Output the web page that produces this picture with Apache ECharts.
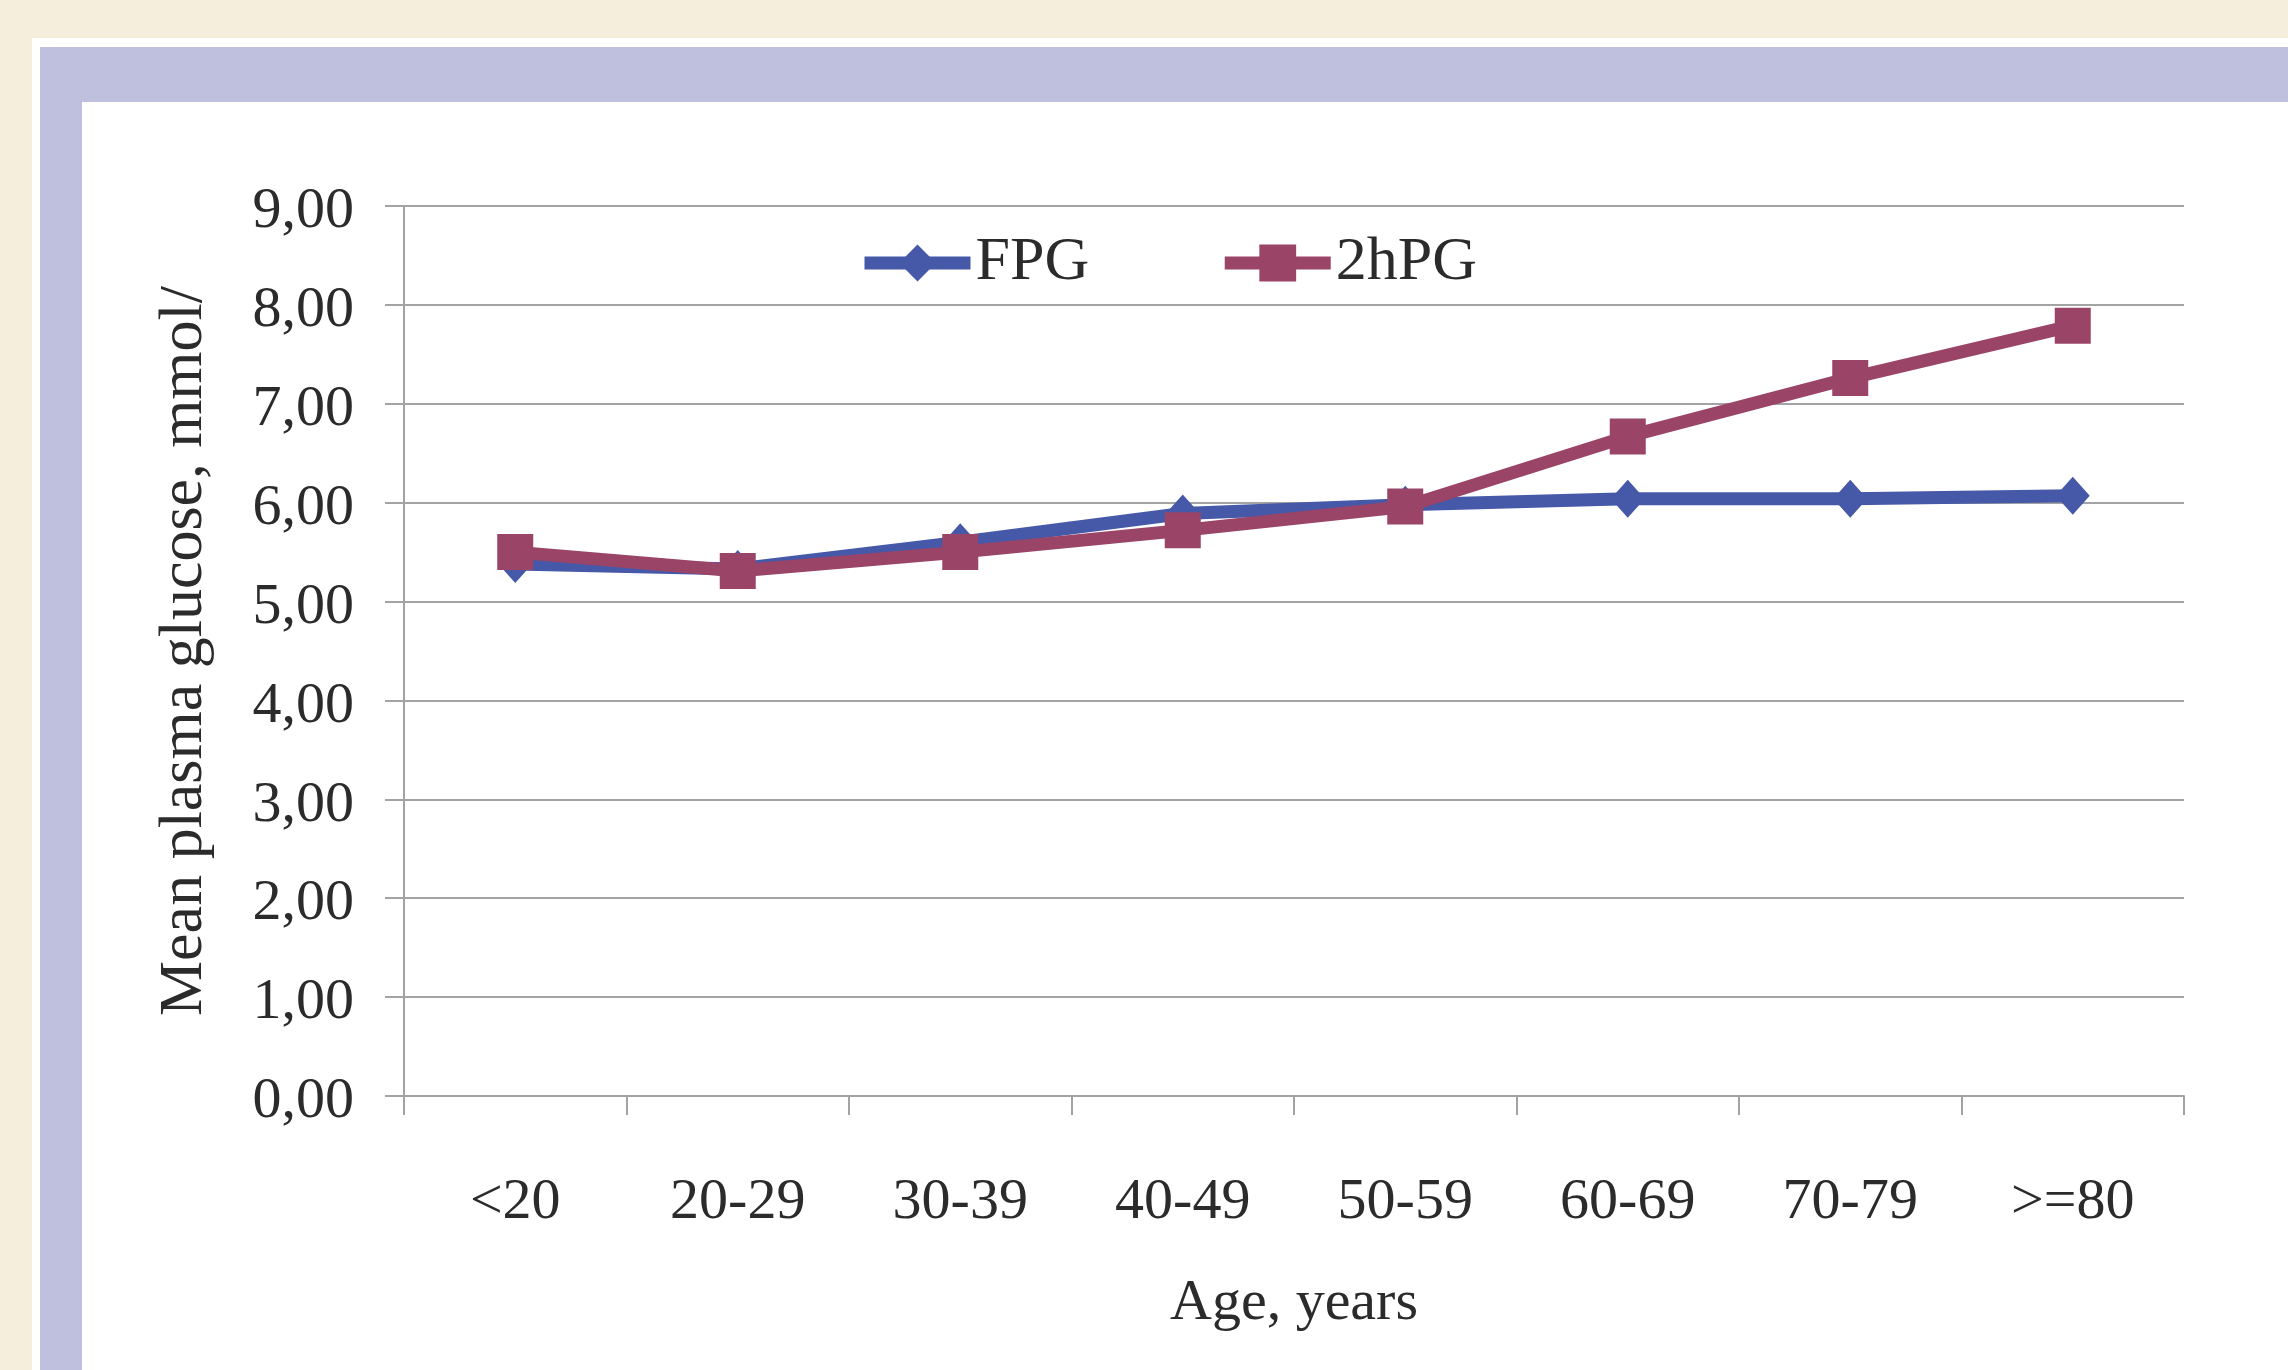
<!DOCTYPE html>
<html>
<head>
<meta charset="utf-8">
<script src="https://cdn.jsdelivr.net/npm/echarts@6/dist/echarts.min.js"></script>
<style>
html,body{margin:0;padding:0;background:#f5eedc;}
#c{width:2288px;height:1370px;}
</style>
</head>
<body>
<div id="c"></div>
<script>
const categories = ['<20', '20-29', '30-39', '40-49', '50-59', '60-69', '70-79', '>=80'];
const fpgValues = [5.38, 5.33, 5.60, 5.89, 5.98, 6.04, 6.04, 6.07];
const hpgValues = [5.50, 5.31, 5.50, 5.72, 5.96, 6.67, 7.26, 7.79];
const seriesNames = ['FPG', '2hPG'];
const yAxisTitle = 'Mean plasma glucose, mmol/';
const xAxisTitle = 'Age, years';

const FONT = '"Liberation Serif", "Times New Roman", serif';
const TEXT = '#2b2b2b';
const GRIDC = '#a3a3a3';
const BLUE = '#4658a8';
const MAROON = '#9a4467';

const chart = echarts.init(document.getElementById('c'));
chart.setOption({
  backgroundColor: '#f5eedc',
  animation: false,
  graphic: [
    {type:'rect', z:-10, silent:true, shape:{x:32, y:38, width:2256, height:1332}, style:{fill:'#ffffff'}},
    {type:'rect', z:-9, silent:true, shape:{x:40, y:47, width:2248, height:1323}, style:{fill:'#bec0dd'}},
    {type:'rect', z:-8, silent:true, shape:{x:82, y:102, width:2206, height:1268}, style:{fill:'#ffffff'}}
  ],
  grid: {left: 404, right: 104, top: 206, bottom: 274, containLabel: false},
  legend: {
    left: 858, top: 232, padding: 0,
    itemWidth: 106, itemHeight: 46, itemGap: 129,
    lineStyle: {width: 13},
    textStyle: {fontFamily: FONT, fontSize: 62, color: TEXT},
    data: seriesNames
  },
  xAxis: {
    type: 'category',
    data: categories,
    boundaryGap: true,
    name: xAxisTitle,
    nameLocation: 'middle',
    nameGap: 179,
    nameTextStyle: {fontFamily: FONT, fontSize: 58, color: TEXT},
    axisLine: {show: true, lineStyle: {color: GRIDC, width: 2}},
    axisTick: {show: true, length: 19, interval: 0, lineStyle: {color: GRIDC, width: 2}},
    axisLabel: {fontFamily: FONT, fontSize: 58, color: TEXT, margin: 78, interval: 0}
  },
  yAxis: {
    type: 'value',
    min: 0, max: 9, interval: 1,
    name: yAxisTitle,
    nameLocation: 'middle',
    nameRotate: 90,
    nameGap: 188,
    nameTextStyle: {fontFamily: FONT, fontSize: 62, color: TEXT},
    axisLine: {show: true, lineStyle: {color: GRIDC, width: 2}},
    axisTick: {show: true, length: 19, lineStyle: {color: GRIDC, width: 2}},
    splitLine: {show: true, lineStyle: {color: GRIDC, width: 2}},
    axisLabel: {
      fontFamily: FONT, fontSize: 58, color: TEXT, margin: 50,
      verticalAlign: 'top', lineHeight: 12,
      formatter: v => v.toFixed(2).replace('.', ',')
    }
  },
  series: [
    {
      name: seriesNames[0], type: 'line', data: fpgValues,
      symbol: 'diamond', symbolSize: [34, 38],
      lineStyle: {color: BLUE, width: 13},
      itemStyle: {color: BLUE},
      z: 2
    },
    {
      name: seriesNames[1], type: 'line', data: hpgValues,
      symbol: 'rect', symbolSize: 36,
      lineStyle: {color: MAROON, width: 13},
      itemStyle: {color: MAROON},
      z: 3
    }
  ]
});
</script>
</body>
</html>
